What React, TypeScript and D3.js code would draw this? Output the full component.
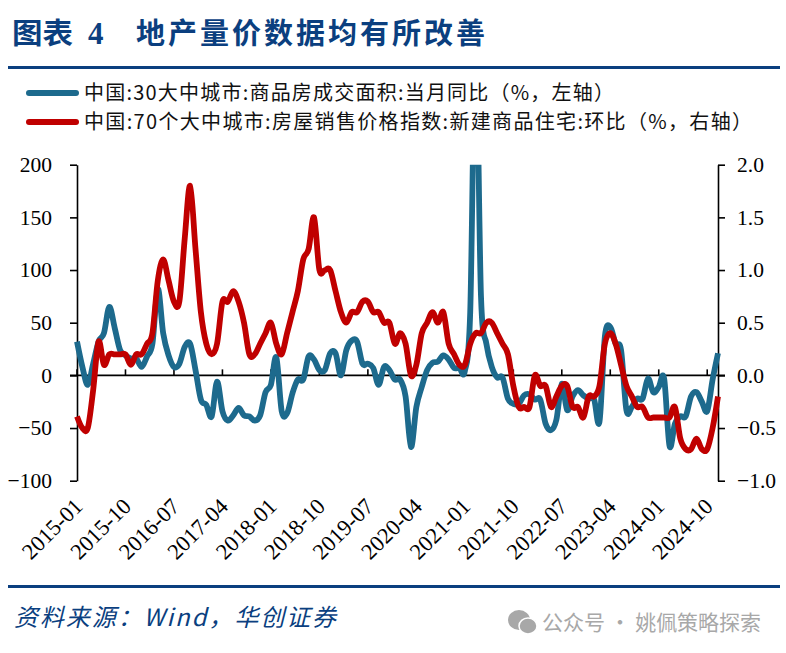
import React, { useEffect, useRef } from "react";
import * as d3 from "d3";

const startYear = 2015;
const tickLabels = ["2015-01","2015-10","2016-07","2017-04","2018-01","2018-10","2019-07","2020-04","2021-01","2021-10","2022-07","2023-04","2024-01","2024-10"];
const legendBlue = "中国:30大中城市:商品房成交面积:当月同比（%，左轴）";
const legendRed = "中国:70个大中城市:房屋销售价格指数:新建商品住宅:环比（%，右轴）";

const volumeYoY = [32,8,-9,11,32,40,65,45,24,19,16,16,8,18,30,82,40,19,8,11,27,30,5,-23,-28,-39,-6,-34,-43,-38,-31,-38,-39,-43,-38,-16,-9,17,-34,-36,-17,-4,-4,18,15,5,5,21,21,0,24,33,32,11,11,7,-9,8,5,-4,-4,-20,-68,-30,-11,5,12,13,19,15,7,7,4,60,320,75,30,8,-2,-2,-22,-27,-27,-19,-18,-23,-23,-46,-52,-42,-8,-33,-20,-14,-19,-22,-23,-44,37,46,30,24,-33,-30,-22,-22,-3,-16,-11,-3,-67,-46,-39,-39,-20,-16,-25,-34,-4,21];
const priceMoM = [-0.39,-0.5,-0.5,-0.14,0.32,0.1,0.2,0.2,0.2,0.2,0.1,0.2,0.2,0.3,0.4,0.9,1.1,0.9,0.7,0.7,1.3,1.8,1.2,0.6,0.3,0.2,0.3,0.7,0.7,0.8,0.7,0.5,0.2,0.2,0.3,0.4,0.5,0.3,0.2,0.4,0.6,0.8,1.1,1.2,1.5,1.0,1.0,1.0,0.8,0.6,0.5,0.6,0.6,0.7,0.7,0.6,0.6,0.5,0.5,0.3,0.4,0.3,0.0,0.1,0.4,0.5,0.6,0.5,0.6,0.3,0.2,0.1,0.1,0.3,0.4,0.4,0.5,0.5,0.4,0.3,0.2,-0.1,-0.3,-0.3,-0.3,0,-0.1,-0.1,-0.3,-0.2,-0.1,-0.1,-0.3,-0.3,-0.4,-0.2,-0.2,-0.1,0.3,0.4,0.3,0.1,-0.1,-0.2,-0.3,-0.3,-0.4,-0.4,-0.4,-0.4,-0.4,-0.3,-0.6,-0.7,-0.7,-0.6,-0.7,-0.7,-0.5,-0.2];
const leftTicks = [200,150,100,50,0,-50,-100];
const rightTicks = [2,1.5,1,0.5,0,-0.5,-1];

const BLUE = "#1d6a8d", RED = "#c00000", NAVY = "#0b3f7f";
const SERIF = "'Liberation Serif', serif";
const CJK = "'Noto Sans CJK SC', 'Liberation Serif', sans-serif";
const L = 77, R = 718, T = 164.7, B = 480.7;

export default function App() {
  const ref = useRef<SVGGElement | null>(null);
  useEffect(() => {
    const g = d3.select(ref.current!);
    g.selectAll("*").remove();
    const x = d3.scaleLinear().domain([0, volumeYoY.length - 1]).range([L, R]);
    const yL = d3.scaleLinear().domain([-100, 200]).range([B, T]);
    const yR = d3.scaleLinear().domain([-1, 2]).range([B, T]);

    g.append("clipPath").attr("id", "plot").append("rect")
      .attr("x", L - 5).attr("y", T).attr("width", R - L + 10).attr("height", B - T);

    const axL = g.append("g").attr("transform", `translate(${L},0)`)
      .call(d3.axisLeft(yL).tickValues(leftTicks).tickSize(7).tickSizeOuter(0).tickPadding(18));
    const axR = g.append("g").attr("transform", `translate(${R},0)`)
      .call(d3.axisRight(yR).tickValues(rightTicks).tickFormat(d3.format(".1f") as any).tickSize(7).tickSizeOuter(0).tickPadding(12));
    [axL, axR].forEach((a) => {
      a.selectAll("path,line").attr("stroke", "#000").attr("stroke-width", 1.6);
      a.selectAll("text").attr("font-family", SERIF).attr("font-size", 21.5).attr("fill", "#000");
    });

    g.append("line").attr("x1", L - 7).attr("x2", R + 7).attr("y1", yL(0)).attr("y2", yL(0))
      .attr("stroke", "#000").attr("stroke-width", 1.6);
    const firstMonth = (s: string) => {
      const [yy, mm] = s.split("-").map(Number);
      return (yy - startYear) * 12 + mm - 1;
    };
    tickLabels.forEach((s) => {
      const px = x(firstMonth(s));
      g.append("line").attr("x1", px).attr("x2", px).attr("y1", yL(0)).attr("y2", yL(0) - 6)
        .attr("stroke", "#000").attr("stroke-width", 1.6);
      g.append("text")
        .attr("transform", `translate(${px + 7},${B + 27}) rotate(-45)`)
        .attr("text-anchor", "end").attr("font-family", SERIF).attr("font-size", 22.5).attr("fill", "#000")
        .text(s);
    });

    const curve = d3.curveCatmullRom.alpha(0);
    const lineL = d3.line<number>().x((_, i) => x(i)).y((d) => yL(d)).curve(curve);
    const lineR = d3.line<number>().x((_, i) => x(i)).y((d) => yR(d)).curve(curve);
    const marks = g.append("g").attr("clip-path", "url(#plot)");
    marks.append("path").attr("d", lineL(volumeYoY)!).attr("fill", "none").attr("stroke", BLUE)
      .attr("stroke-width", 5.8).attr("stroke-linejoin", "round");
    marks.append("path").attr("d", lineR(priceMoM)!).attr("fill", "none").attr("stroke", RED)
      .attr("stroke-width", 5.8).attr("stroke-linejoin", "round");
  }, []);

  return (
    <svg width={786} height={653} style={{ position: "absolute", left: 0, top: 0, background: "#fff" }}>
      <text x={12} y={44} fontFamily={CJK} fontWeight={700} fontSize={29} fill={NAVY} textLength={61} lengthAdjust="spacingAndGlyphs">图表</text>
      <text x={88} y={44} fontFamily={SERIF} fontWeight={700} fontSize={31} fill={NAVY}>4</text>
      <text x={136} y={44} fontFamily={CJK} fontWeight={700} fontSize={29} fill={NAVY} textLength={349} lengthAdjust="spacing">地产量价数据均有所改善</text>
      <rect x={8} y={66} width={772} height={3} fill={NAVY} />

      <line x1={29} x2={76} y1={93} y2={93} stroke={BLUE} strokeWidth={6} strokeLinecap="round" />
      <text x={84} y={100} fontFamily={CJK} fontSize={20} fill="#111" textLength={530} lengthAdjust="spacing">{legendBlue}</text>
      <line x1={29} x2={76} y1={122} y2={122} stroke={RED} strokeWidth={6} strokeLinecap="round" />
      <text x={84} y={129} fontFamily={CJK} fontSize={20} fill="#111" textLength={668} lengthAdjust="spacing">{legendRed}</text>

      <g ref={ref} />

      <rect x={8} y={585} width={772} height={3} fill={NAVY} />
      <text x={14} y={626} fontFamily={CJK} fontStyle="italic" fontSize={24} fill={NAVY} textLength={322} lengthAdjust="spacing">资料来源：Wind，华创证券</text>

      <g fill="#a8a8a8">
        <ellipse cx={519} cy={620} rx={11} ry={10} />
        <ellipse cx={528} cy={626} rx={9} ry={8} stroke="#fff" strokeWidth={1.5} />
      </g>
      <text x={542} y={630} fontFamily={CJK} fontSize={21} fill="#a8a8a8" textLength={219} lengthAdjust="spacing">公众号 · 姚佩策略探索</text>
    </svg>
  );
}
